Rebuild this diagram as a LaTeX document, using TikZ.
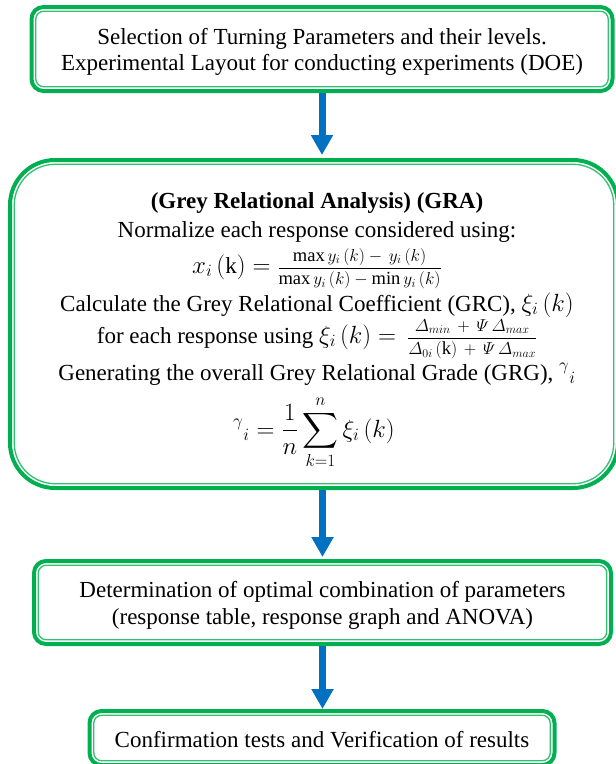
\documentclass[tikz,border=0pt]{standalone}
\usepackage{amsmath}
\usepackage{fontspec}
\setmainfont{Liberation Serif}
\usetikzlibrary{arrows.meta}
\definecolor{grn}{RGB}{0,176,80}
\definecolor{flowblue}{RGB}{0,112,192}
\newcommand\bxfont{\fontsize{23}{26.5}\selectfont}
\newcommand\fracfont{\fontsize{18.5}{18.5}\selectfont}
\begin{document}
\begin{tikzpicture}[x=1pt,y=-1pt,
  frame/.style={rectangle, draw=grn, line width=4pt, fill=white,
    outer sep=0pt, inner sep=0pt, rounded corners=#1},
  innerline/.style={draw=grn!80, line width=1.3pt, rounded corners=#1},
  boxtext/.style={inner sep=0pt, align=center, font=\bxfont},
  gline/.style={inner sep=0pt, anchor=base, font=\bxfont},
  flow/.style={draw=flowblue, line width=7pt,
    -{Triangle[width=21pt,length=20pt]}, shorten <=2pt, shorten >=#1},
  flow/.default=4pt]
\useasboundingbox (0,0) rectangle (616,764);

% step 1
\node[frame=12, minimum width=581pt, minimum height=84pt] (b1) at (322,49) {};
\draw[innerline=8] ([shift={(4.25,4.25)}]b1.north west) rectangle ([shift={(-4.25,-4.25)}]b1.south east);
\node[boxtext] (l1) at ([yshift=-3pt]b1.center)
  {Selection of Turning Parameters and their levels.\\
   Experimental Layout for conducting experiments (DOE)};

% step 2: grey relational analysis
\node[frame=45, minimum width=608pt, minimum height=328pt] (b2) at (314,324) {};
\draw[innerline=41] ([shift={(4.25,4.25)}]b2.north west) rectangle ([shift={(-4.25,-4.25)}]b2.south east);
\node[gline] (t1) at (317,208) {\textbf{(Grey Relational Analysis) (GRA)}};
\node[gline] (t2) at (317,237) {Normalize each response considered using:};
\node[gline] (t3) at (317,273)
  {$x_i\,(\mathrm{k}) = \mbox{\fracfont$\displaystyle\frac{\max y_i\,(k)-\,y_i\,(k)}{\max y_i\,(k)-\min y_i\,(k)}$}$};
\node[gline] (t4) at (317,311)
  {Calculate the Grey Relational Coefficient (GRC), $\xi_i\,(k)$};
\node[gline] (t5) at (317,343)
  {for each response using $\xi_i\,(k) = \,\mbox{\fracfont$\displaystyle\frac{\varDelta_{min}\,+\,\varPsi\,\varDelta_{max}}{\varDelta_{0i}\,(\mathrm{k})\,+\,\varPsi\,\varDelta_{max}}$}$};
\node[gline] (t6) at (317,380)
  {Generating the overall Grey Relational Grade (GRG), ${}^{\gamma}{}_{i}$};
\node[gline, font=\fontsize{24.5}{24.5}\selectfont] (t7) at (314,437)
  {$\displaystyle {}^{\gamma}{}_{i} = \frac{1}{n}\sum_{k=1}^{n}\xi_i\,(k)$};

% step 3
\node[frame=12, minimum width=577pt, minimum height=83pt] (b3) at (322.5,602.5) {};
\draw[innerline=8] ([shift={(4.25,4.25)}]b3.north west) rectangle ([shift={(-4.25,-4.25)}]b3.south east);
\node[boxtext] (l3) at ([yshift=-3pt]b3.center)
  {Determination of optimal combination of parameters\\
   (response table, response graph and ANOVA)};

% step 4
\node[frame=12, minimum width=465pt, minimum height=54pt] (b4) at (322,738) {};
\draw[innerline=8] ([shift={(4.25,4.25)}]b4.north west) rectangle ([shift={(-4.25,-4.25)}]b4.south east);
\node[boxtext] (l4) at ([yshift=-2pt]b4.center)
  {Confirmation tests and Verification of results};

% connectors
\draw[flow=5pt] (b1.south) -- (b1.south |- b2.north);
\draw[flow] (b3.north |- b2.south) -- (b3.north);
\draw[flow=2pt] (b3.south) -- (b3.south |- b4.north);
\end{tikzpicture}
\end{document}
